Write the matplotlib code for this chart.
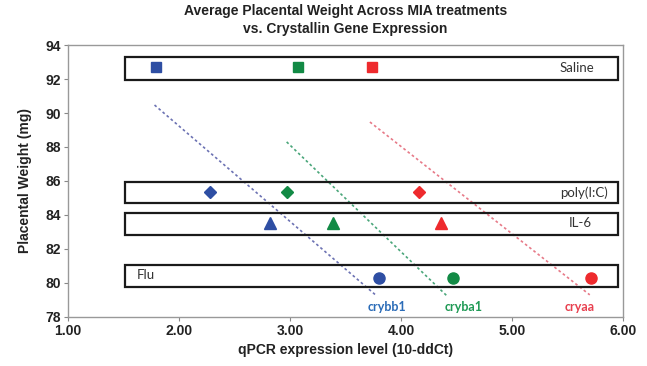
import matplotlib
matplotlib.use("Agg")
import matplotlib.pyplot as plt
from matplotlib.patches import Rectangle

# treatments and their average placental weight (mg)
treatments = ["Saline", "poly(I:C)", "IL-6", "Flu"]
weights = [92.7, 85.35, 83.55, 80.3]
markers = ["s", "D", "^", "o"]
marker_sizes = [7, 6.5, 8, 8]

# qPCR expression per gene, in treatment order
genes = ["crybb1", "cryba1", "cryaa"]
crybb1 = [1.79, 2.28, 2.82, 3.80]
cryba1 = [3.07, 2.97, 3.39, 4.47]
cryaa = [3.74, 4.16, 4.36, 5.71]
gene_colors = ["#2e4ea3", "#128a45", "#ee2a2d"]
label_colors = ["#2b6cb8", "#1f9a55", "#e8404f"]
line_colors = ["#6c72b3", "#4aa67a", "#e77a88"]

# dashed trend lines (start x, end x, start y, end y)
trend_x = [[1.78, 3.77], [2.97, 4.42], [3.72, 5.70]]
trend_y = [[90.47, 79.3], [88.3, 79.2], [89.47, 79.3]]

# boxes around each treatment row: y bottom, y top
box_lo = [91.95, 84.7, 82.82, 79.76]
box_hi = [93.3, 85.94, 84.12, 81.06]

plt.rcParams['font.family'] = ['Liberation Sans', 'DejaVu Sans']

fig = plt.figure(figsize=(6.47, 3.66), dpi=100)
ax = fig.add_axes([0.105, 0.134, 0.858, 0.743])

for i in range(4):
    ax.add_patch(Rectangle((1.51, box_lo[i]), 5.95 - 1.51, box_hi[i] - box_lo[i],
                           fill=False, edgecolor="#1a1a1a", linewidth=1.6, zorder=2))

for xs, ys, c in zip(trend_x, trend_y, line_colors):
    ax.plot(xs, ys, linestyle=(0, (1.6, 1.6)), color=c, linewidth=1.2, zorder=1)

for vals, c in zip([crybb1, cryba1, cryaa], gene_colors):
    for j in range(4):
        ax.plot(vals[j], weights[j], marker=markers[j], color=c, markersize=marker_sizes[j],
                linestyle="none", zorder=3)

box_font = ['Lato', 'DejaVu Sans']
ax.text(5.74, 92.65, "Saline", ha="right", va="center", fontsize=9.5, family=box_font, color="#333333")
ax.text(5.86, 85.3, "poly(I:C)", ha="right", va="center", fontsize=9.5, family=box_font, color="#333333")
ax.text(5.72, 83.5, "IL-6", ha="right", va="center", fontsize=9.5, family=box_font, color="#333333")
ax.text(1.62, 80.45, "Flu", ha="left", va="center", fontsize=9.5, family=box_font, color="#333333")

gene_label_x = [3.87, 4.56, 5.61]
for g, gx, c in zip(genes, gene_label_x, label_colors):
    ax.text(gx, 78.6, g, ha="center", va="center", fontsize=9, family=box_font,
            fontweight="bold", color=c)

ax.set_xlim(1, 6)
ax.set_ylim(78, 94)
ax.set_xticks([1, 2, 3, 4, 5, 6])
ax.set_xticklabels(["1.00", "2.00", "3.00", "4.00", "5.00", "6.00"])
ax.set_yticks(range(78, 95, 2))
for lab in ax.get_xticklabels() + ax.get_yticklabels():
    lab.set_fontweight("bold")
    lab.set_fontsize(10)
    lab.set_color("#222222")
ax.tick_params(direction="out", length=3, color="#888888", pad=2)
for s in ax.spines.values():
    s.set_color("#999999")
    s.set_linewidth(1)

ax.set_xlabel("qPCR expression level (10-ddCt)", fontsize=10, fontweight="bold", color="#222222", labelpad=4)
ax.set_ylabel("Placental Weight (mg)", fontsize=10, fontweight="bold", color="#222222", labelpad=10)
ax.set_title("Average Placental Weight Across MIA treatments\nvs. Crystallin Gene Expression",
             fontsize=10, fontweight="bold", color="#222222", pad=9, linespacing=1.3)

fig.savefig("out.png", dpi=100)
